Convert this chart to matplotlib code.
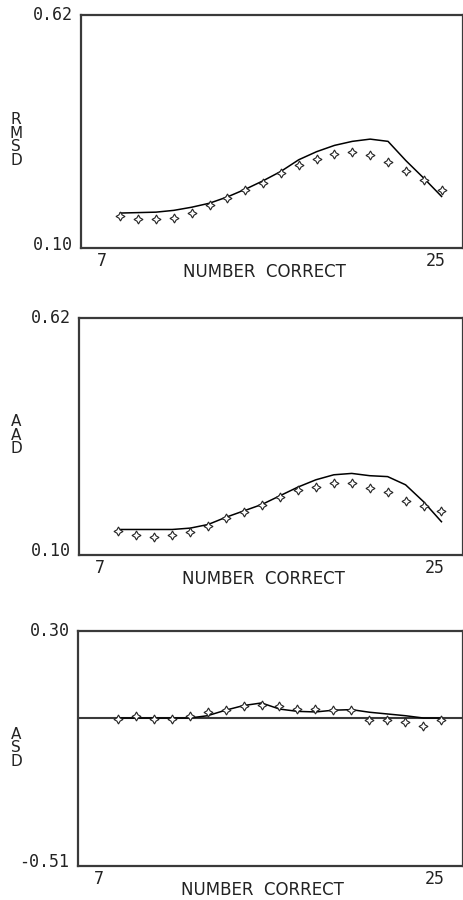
import matplotlib
matplotlib.use("Agg")
import matplotlib.pyplot as plt

# x values: number correct
number_correct = list(range(7, 26))

# Panel 1: RMSD
rmsd_points = [0.172, 0.165, 0.165, 0.167, 0.177, 0.195, 0.211, 0.229, 0.246, 0.267,
               0.286, 0.298, 0.310, 0.315, 0.307, 0.293, 0.271, 0.251, 0.229]
rmsd_curve = [0.178, 0.179, 0.180, 0.184, 0.191, 0.200, 0.214, 0.231, 0.250, 0.271,
              0.297, 0.315, 0.329, 0.338, 0.343, 0.338, 0.295, 0.256, 0.215]

# Panel 2: AAD
aad_points = [0.153, 0.144, 0.140, 0.144, 0.151, 0.164, 0.181, 0.195, 0.210, 0.228,
              0.243, 0.249, 0.257, 0.257, 0.246, 0.238, 0.219, 0.208, 0.197]
aad_curve = [0.156, 0.156, 0.156, 0.156, 0.159, 0.167, 0.183, 0.197, 0.211, 0.230,
             0.249, 0.265, 0.276, 0.279, 0.274, 0.272, 0.254, 0.217, 0.173]

# Panel 3: ASD
asd_points = [-0.003, 0.008, -0.003, -0.002, 0.006, 0.021, 0.029, 0.040, 0.046, 0.040,
              0.031, 0.031, 0.029, 0.029, -0.008, -0.006, -0.015, -0.026, -0.006]
asd_curve = [0.0, 0.0, 0.0, 0.0, 0.0, 0.008, 0.027, 0.043, 0.052, 0.031,
             0.023, 0.021, 0.027, 0.029, 0.020, 0.014, 0.008, 0.0, 0.0]

panels = [
    dict(label="R\nM\nS\nD", points=rmsd_points, curve=rmsd_curve,
         ylim=(0.10, 0.62), yticklabels=("0.62", "0.10"), zero=False),
    dict(label="A\nA\nD", points=aad_points, curve=aad_curve,
         ylim=(0.10, 0.62), yticklabels=("0.62", "0.10"), zero=False),
    dict(label="A\nS\nD", points=asd_points, curve=asd_curve,
         ylim=(-0.51, 0.30), yticklabels=("0.30", "-0.51"), zero=True),
]
x_tick_labels = ("7", "25")

W, H = 464, 900
fig = plt.figure(figsize=(W / 100, H / 100), dpi=100)
fig.patch.set_facecolor("white")

# axes pixel boxes: left, top, right, bottom
boxes = [(81, 15, 463, 248), (79, 318, 463, 555), (78, 631, 463, 866)]
ylabel_centers = [140, 435, 748]

frame_color = "#3a3a3a"
text_color = "#222222"
mono = "DejaVu Sans Mono"
sans = "DejaVu Sans"

for p, (l, t, r, b), ylc in zip(panels, boxes, ylabel_centers):
    ax = fig.add_axes([l / W, 1 - b / H, (r - l) / W, (b - t) / H])
    ax.set_xlim(4.8, 26.2)
    ax.set_ylim(*p["ylim"])
    for s in ax.spines.values():
        s.set_color(frame_color)
        s.set_linewidth(1.6)
    ax.set_xticks([])
    ax.set_yticks([])

    if p["zero"]:
        ax.axhline(0.0, color=frame_color, lw=1.5, zorder=2)
    ax.plot(number_correct, p["curve"], color="black", lw=1.1, zorder=3)
    ax.plot(number_correct, p["points"], linestyle="none", marker=(4, 1, 0),
            markersize=6.5, markerfacecolor="white", markeredgecolor="#222222",
            markeredgewidth=0.8, zorder=4)

    # y range labels at top and bottom of axis
    ax.text(-0.022, 1.0, p["yticklabels"][0], transform=ax.transAxes,
            ha="right", va="center", fontsize=12, color=text_color, family=mono)
    ax.text(-0.022, 0.015, p["yticklabels"][1], transform=ax.transAxes,
            ha="right", va="center", fontsize=12, color=text_color, family=mono)

    # x range labels
    ax.text(5.95, -0.018, x_tick_labels[0], transform=ax.get_xaxis_transform(),
            ha="center", va="top", fontsize=12, color=text_color, family=mono)
    ax.text(24.65, -0.018, x_tick_labels[1], transform=ax.get_xaxis_transform(),
            ha="center", va="top", fontsize=12, color=text_color, family=mono)

    ax.text(0.48, -0.065, "NUMBER  CORRECT", transform=ax.transAxes,
            ha="center", va="top", fontsize=12, color=text_color, family=sans)

    # stacked vertical letters as y label
    fig.text(16 / W, 1 - ylc / H, p["label"], ha="center", va="center",
             fontsize=11, color=text_color, linespacing=0.9, family=sans)

fig.savefig("out.png", dpi=100, facecolor="white")
